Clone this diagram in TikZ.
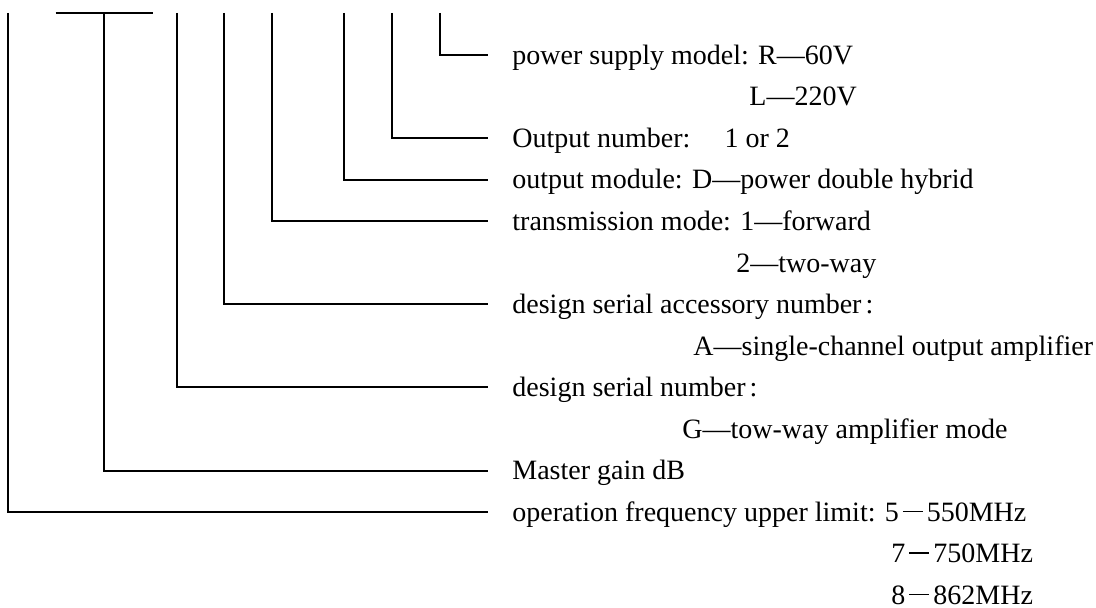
\documentclass[tikz,border=0pt]{standalone}
\usepackage{fontspec}
\setmainfont{Liberation Serif}
\usetikzlibrary{positioning}
\newcommand{\fwdash}{\hspace{2pt}\rule[4.6pt]{10pt}{0.8pt}\hspace{2pt}}
\newcommand{\fwcolon}{\kern2pt:}

\begin{document}
\begin{tikzpicture}[
			x=0.5pt, y=-0.5pt,
			every node/.style={font=\fontsize{14}{16}\selectfont},
			desc/.style={anchor=west, inner sep=0pt, text height=12pt, text depth=2.7pt},
			item/.style={desc, inner xsep=12pt},
			wire/.style={draw, black, line width=1pt}
			]
			\useasboundingbox (0,0) rectangle (1096,608);
			
			% 节点定义
			\node (ps) [item] at (488,55) {power supply model: R—60V};
			\node (psL) [desc] at (749,96.55) {L—220V};
			\node (on) [item] at (488,138.1) {Output number:\hspace{17pt}1 or 2};
			\node (om) [item] at (488,179.65) {output module: D—power double hybrid};
			\node (tm) [item] at (488,221.2) {transmission mode: 1—forward};
			\node (tm2) [desc] at (736,262.75) {2—two-way};
			\node (dsa) [item] at (488,304.3) {design serial accessory number\fwcolon};
			\node (dsaA) [desc] at (693,345.85) {A—single-channel output amplifier};
			\node (dsn) [item] at (488,387.4) {design serial number\fwcolon};
			\node (dsnG) [desc] at (682,428.95) {G—tow-way amplifier mode};
			\node (mg) [item] at (488,470.5) {Master gain dB};
			\node (of) [item] at (488,512.05) {operation frequency upper limit: 5\fwdash550MHz};
			\node (of7) [desc] at (891,553.6) {7\fwdash750MHz};
			\node (of8) [desc] at (891,595.15) {8\fwdash862MHz};
			
			% 竖线起点
			\coordinate (p1) at (8.3,13);
			\coordinate (p2) at (104,13);
			\coordinate (p3) at (176.7,13);
			\coordinate (p4) at (224,13);
			\coordinate (p5) at (272,13);
			\coordinate (p6) at (344,13);
			\coordinate (p7) at (392,13);
			\coordinate (p8) at (440,13);
			\coordinate (barL) at (55.7,13);
			\coordinate (barR) at (152.7,13);
			
			% 连线
			\draw [wire] (barL) -- (barR);
			\draw [wire] (p1) |- (of.west);
			\draw [wire] (p2) |- (mg.west);
			\draw [wire] (p3) |- (dsn.west);
			\draw [wire] (p4) |- (dsa.west);
			\draw [wire] (p5) |- (tm.west);
			\draw [wire] (p6) |- (om.west);
			\draw [wire] (p7) |- (on.west);
			\draw [wire] (p8) |- (ps.west);
			
		\end{tikzpicture}
\end{document}
